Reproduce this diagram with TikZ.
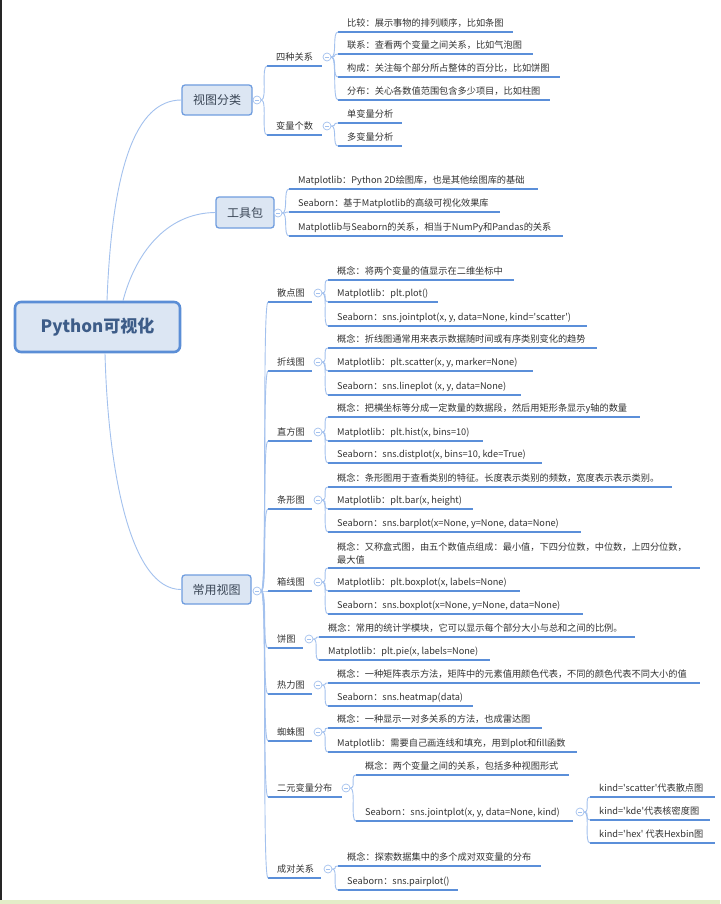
\documentclass[tikz,border=0pt]{standalone}
\usepackage{fontspec}
\setmainfont{Noto Sans CJK SC}[Ligatures=TeXOff]
\usetikzlibrary{calc}
\definecolor{ulc}{HTML}{5B8FD9}
\definecolor{cnc}{HTML}{A3C1EE}
\definecolor{boxf}{HTML}{DCE6F3}
\definecolor{boxd}{HTML}{6F9DDF}
\definecolor{txt}{HTML}{333333}
\definecolor{boxt}{HTML}{3A4656}
\definecolor{roott}{HTML}{3D5C88}
\definecolor{rootd}{HTML}{5B8ED6}
\definecolor{band}{HTML}{E3EDC8}
\tikzset{
  leaf/.style={font=\fontsize{9.2}{13}\selectfont, text=txt, inner sep=0pt},
  uline/.style={draw=ulc, line width=1.8pt},
  conn/.style={draw=cnc, line width=0.9pt},
  collapse/.style={circle, draw=cnc, fill=white, line width=0.7pt, inner sep=0pt, minimum size=8pt},
  l1box/.style={draw=boxd, fill=boxf, line width=1.3pt, rounded corners=3pt, inner sep=0pt, font=\fontsize{12}{14}\selectfont, text=boxt},
  rootbox/.style={draw=rootd, fill=boxf, line width=2.6pt, rounded corners=6pt, inner sep=0pt, font=\fontsize{17}{20}\selectfont\bfseries, text=roott}
}
\newcommand\lf[5]{%
  \node[leaf,anchor=base west] (#1) at (#2,#3+3.3) {#5};
  \coordinate (#1-s) at (#2-9,#3+9);
  \draw[uline] (#1-s) -- (#4,#3+9);}
\newcommand\cb[3]{%
  \node[collapse] (#1) at (#2,#3) {};
  \draw[cnc,line width=0.7pt] ($(#1.center)+(-2,0)$) -- ($(#1.center)+(2,0)$);}
\newcommand\cn[2]{\draw[conn] (#1.east) .. controls +(6,0) and +(-6,0) .. (#2-s);}
\begin{document}
\begin{tikzpicture}[x=1pt,y=-1pt]
\fill[white] (0,0) rectangle (720,904);
\useasboundingbox (0,0) rectangle (720,904);
\fill[black!85] (0,0) rectangle (2,900);
\fill[band] (0,900) rectangle (720,904);

% root and level 1
\node[rootbox, minimum width=165pt, minimum height=50pt] (root) at (97.5,327) {Python可视化};
\node[l1box, minimum width=70pt, minimum height=30pt] (v) at (217,100) {视图分类};
\node[l1box, minimum width=58pt, minimum height=31pt] (g) at (245,212.5) {工具包};
\node[l1box, minimum width=69pt, minimum height=29pt] (u) at (216.5,589.5) {常用视图};
\draw[conn] ($(root.north)+(9.5,0)$) .. controls (112,170) and (135,100) .. (v.west);
\draw[conn] ($(root.north)+(25.5,0)$) .. controls (135,255) and (165,213) .. (g.west);
\draw[conn] ($(root.south)+(7.5,0)$) .. controls (108,470) and (130,590) .. (u.west);
\cb{v-c}{257}{100}
\cb{g-c}{278}{213}
\cb{u-c}{257}{591}

% 视图分类
\lf{sz}{276}{57}{322}{四种关系}
\lf{bl}{276}{126}{322}{变量个数}
\cn{v-c}{sz} \cn{v-c}{bl}
\cb{sz-c}{327}{57}
\cb{bl-c}{327}{126}
\lf{a1}{347}{23}{513}{比较：展示事物的排列顺序，比如条图}
\lf{a2}{347}{45}{533}{联系：查看两个变量之间关系，比如气泡图}
\lf{a3}{347}{68}{560}{构成：关注每个部分所占整体的百分比，比如饼图}
\lf{a4}{347}{91}{550}{分布：关心各数值范围包含多少项目，比如柱图}
\cn{sz-c}{a1} \cn{sz-c}{a2} \cn{sz-c}{a3} \cn{sz-c}{a4}
\lf{b1}{347}{114}{402}{单变量分析}
\lf{b2}{347}{137}{402}{多变量分析}
\cn{bl-c}{b1} \cn{bl-c}{b2}

% 工具包
\lf{t1}{298}{180}{538}{Matplotlib：Python 2D绘图库，也是其他绘图库的基础}
\lf{t2}{298}{203}{500}{Seaborn：基于Matplotlib的高级可视化效果库}
\lf{t3}{298}{227}{563}{Matplotlib与Seaborn的关系，相当于NumPy和Pandas的关系}
\cn{g-c}{t1} \cn{g-c}{t2} \cn{g-c}{t3}

% 常用视图 children
\lf{c1}{277}{293}{312}{散点图}
\lf{c2}{277}{362}{312}{折线图}
\lf{c3}{277}{432}{312}{直方图}
\lf{c4}{277}{500}{312}{条形图}
\lf{c5}{277}{582}{312}{箱线图}
\lf{c6}{277}{639}{303}{饼图}
\lf{c7}{277}{685}{312}{热力图}
\lf{c8}{277}{732}{312}{蜘蛛图}
\lf{c9}{277}{788}{342}{二元变量分布}
\lf{c10}{277}{869}{321}{成对关系}
\foreach \k in {c1,c2,c3,c4,c5,c6,c7,c8,c9,c10} {\cn{u-c}{\k}}
\cb{c1-c}{318}{293}
\cb{c2-c}{318}{362}
\cb{c3-c}{318}{432}
\cb{c4-c}{318}{500}
\cb{c5-c}{318}{582}
\cb{c6-c}{309}{639}
\cb{c7-c}{318}{685}
\cb{c8-c}{318}{732}
\cb{c9-c}{346}{788}
\cb{c10-c}{328}{869}

% 散点图
\lf{d1}{337}{271}{514}{概念：将两个变量的值显示在二维坐标中}
\lf{d2}{337}{293}{438}{Matplotlib：plt.plot()}
\lf{d3}{337}{317}{587}{Seaborn：sns.jointplot(x, y, data=None, kind='scatter')}
\cn{c1-c}{d1} \cn{c1-c}{d2} \cn{c1-c}{d3}
% 折线图
\lf{e1}{337}{339}{597}{概念：折线图通常用来表示数据随时间或有序类别变化的趋势}
\lf{e2}{337}{362}{533}{Matplotlib：plt.scatter(x, y, marker=None)}
\lf{e3}{337}{386}{521}{Seaborn：sns.lineplot (x, y, data=None)}
\cn{c2-c}{e1} \cn{c2-c}{e2} \cn{c2-c}{e3}
% 直方图
\lf{f1}{337}{408}{640}{概念：把横坐标等分成一定数量的数据段，然后用矩形条显示y轴的数量}
\lf{f2}{337}{432}{483}{Matplotlib：plt.hist(x, bins=10)}
\lf{f3}{337}{454}{542}{Seaborn：sns.distplot(x, bins=10, kde=True)}
\cn{c3-c}{f1} \cn{c3-c}{f2} \cn{c3-c}{f3}
% 条形图
\lf{h1}{337}{478}{672}{概念：条形图用于查看类别的特征。长度表示类别的频数，宽度表示表示类别。}
\lf{h2}{337}{500}{473}{Matplotlib：plt.bar(x, height)}
\lf{h3}{337}{523}{581}{Seaborn：sns.barplot(x=None, y=None, data=None)}
\cn{c4-c}{h1} \cn{c4-c}{h2} \cn{c4-c}{h3}
% 箱线图
\node[leaf,anchor=west,align=left] (k1) at (337,553) {概念：又称盒式图，由五个数值点组成：最小值，下四分位数，中位数，上四分位数，\\最大值};
\coordinate (k1-s) at (328,568);
\draw[uline] (k1-s) -- (700,568);
\lf{k2}{337}{582}{520}{Matplotlib：plt.boxplot(x, labels=None)}
\lf{k3}{337}{605}{583}{Seaborn：sns.boxplot(x=None, y=None, data=None)}
\cn{c5-c}{k1} \cn{c5-c}{k2} \cn{c5-c}{k3}
% 饼图
\lf{p1}{328}{628}{635}{概念：常用的统计学模块，它可以显示每个部分大小与总和之间的比例。}
\lf{p2}{328}{651}{490}{Matplotlib：plt.pie(x, labels=None)}
\cn{c6-c}{p1} \cn{c6-c}{p2}
% 热力图
\lf{r1}{337}{674}{700}{概念：一种矩阵表示方法，矩阵中的元素值用颜色代表，不同的颜色代表不同大小的值}
\lf{r2}{337}{697}{473}{Seaborn：sns.heatmap(data)}
\cn{c7-c}{r1} \cn{c7-c}{r2}
% 蜘蛛图
\lf{s1}{337}{719}{542}{概念：一种显示一对多关系的方法，也成雷达图}
\lf{s2}{337}{743}{577}{Matplotlib：需要自己画连线和填充，用到plot和fill函数}
\cn{c8-c}{s1} \cn{c8-c}{s2}
% 二元变量分布
\lf{w1}{365}{766}{569}{概念：两个变量之间的关系，包括多种视图形式}
\lf{w2}{365}{812}{573}{Seaborn：sns.jointplot(x, y, data=None, kind)}
\cn{c9-c}{w1} \cn{c9-c}{w2}
\cb{w2-c}{580}{812}
\lf{x1}{599}{788}{715}{kind='scatter'代表散点图}
\lf{x2}{599}{811}{710}{kind='kde'代表核密度图}
\lf{x3}{599}{834}{715}{kind='hex' 代表Hexbin图}
\cn{w2-c}{x1} \cn{w2-c}{x2} \cn{w2-c}{x3}
% 成对关系
\lf{y1}{347}{857}{541}{概念：探索数据集中的多个成对双变量的分布}
\lf{y2}{347}{881}{458}{Seaborn：sns.pairplot()}
\cn{c10-c}{y1} \cn{c10-c}{y2}
\end{tikzpicture}
\end{document}
